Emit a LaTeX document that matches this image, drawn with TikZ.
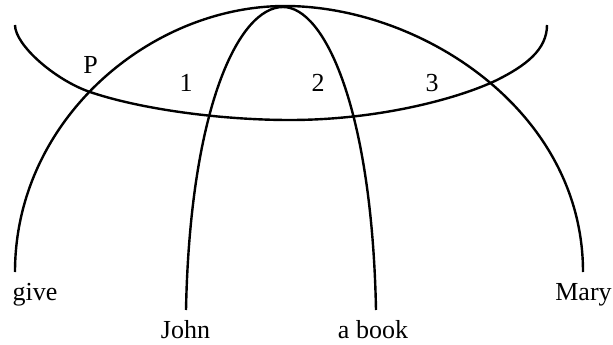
\documentclass[tikz,border=0pt]{standalone}
\usepackage{fontspec}
\setmainfont{Liberation Serif}
\begin{document}
\begin{tikzpicture}[x=1pt,y=-1pt,
  curve/.style={line width=2.4pt},
  lab/.style={font=\fontsize{26}{30}\selectfont, inner sep=0pt}]
\useasboundingbox (0,0) rectangle (613,345);
% word labels
\node[lab, anchor=base] (give) at (35,300) {give};
\node[lab, anchor=base] (john) at (185.5,338) {John};
\node[lab, anchor=base] (book) at (373,338) {a book};
\node[lab, anchor=base] (mary) at (583.5,300) {Mary};
% region labels
\node[lab] (p) at (90.5,65) {P};
\node[lab] (one) at (186,83) {1};
\node[lab] (two) at (318,83) {2};
\node[lab] (three) at (432,83) {3};
% curve end points
\coordinate (gE) at (15,272);
\coordinate (mE) at (583,272);
\coordinate (jE) at (186,310);
\coordinate (bE) at (376,310);
\coordinate (top) at (285,6);
\coordinate (itop) at (283,7);
\coordinate (hl) at (15,25);
\coordinate (hr) at (547,25);
\coordinate (xP) at (90,92);
\coordinate (hm) at (290,120);
\coordinate (xR) at (497,80);
% outer arc: give -- Mary
\draw[curve] (gE) .. controls (15,120) and (150,6) .. (top)
  .. controls (420,6) and (583,110) .. (mE);
% inner arc: John -- a book
\draw[curve] (jE) .. controls (190,110) and (238,7) .. (itop)
  .. controls (325,7) and (372,110) .. (bE);
% transverse curve
\draw[curve] (hl) .. controls (15,45) and (55,80) .. (xP)
  .. controls (140,109) and (220,120) .. (hm)
  .. controls (380,120) and (460,98) .. (xR)
  .. controls (525,66) and (547,50) .. (hr);
\end{tikzpicture}
\end{document}
